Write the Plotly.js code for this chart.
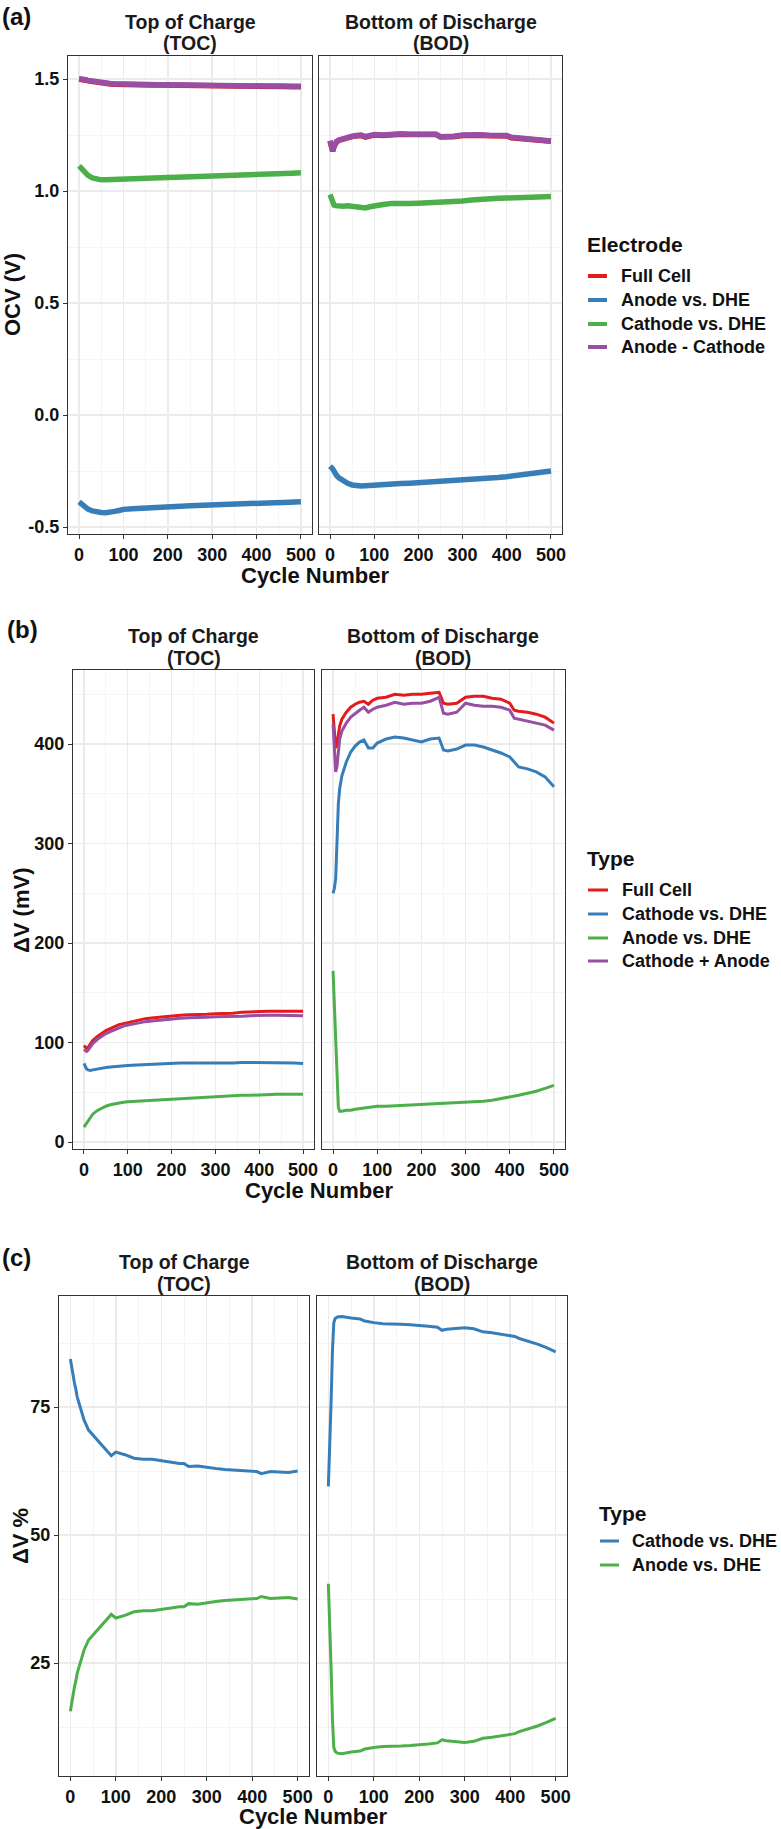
<!DOCTYPE html>
<html><head><meta charset="utf-8">
<script src="https://cdn.plot.ly/plotly-3.0.1.min.js"></script>
<style>html,body{margin:0;padding:0;background:#fff;}#chart{width:781px;height:1829px;}</style>
</head><body><div id="chart"></div>
<script>
// ---------- shared x values ----------
const cycles = [0,3,6,9,12,15,20,30,40,50,60,70,80,90,100,120,140,160,180,200,220,240,250,260,280,300,320,340,360,380,400,410,420,440,460,480,500];

// ---------- panel (a): OCV (V) ----------
const ocvTocFull    = [1.499,1.499,1.498,1.497,1.496,1.495,1.492,1.488,1.484,1.481,1.479,1.478,1.477,1.476,1.476,1.475,1.474,1.474,1.473,1.473,1.472,1.472,1.471,1.471,1.470,1.470,1.469,1.469,1.468,1.468,1.468,1.467,1.467,1.467,1.467,1.466,1.466];
const ocvTocAnode   = [-0.388,-0.393,-0.399,-0.404,-0.409,-0.414,-0.420,-0.428,-0.433,-0.435,-0.436,-0.435,-0.430,-0.426,-0.421,-0.418,-0.415,-0.413,-0.411,-0.409,-0.407,-0.406,-0.405,-0.404,-0.402,-0.400,-0.399,-0.398,-0.396,-0.395,-0.393,-0.392,-0.392,-0.391,-0.390,-0.388,-0.387];
const ocvTocCathode = [1.112,1.106,1.099,1.092,1.085,1.079,1.070,1.059,1.053,1.050,1.050,1.051,1.053,1.054,1.056,1.057,1.058,1.059,1.060,1.061,1.062,1.063,1.063,1.064,1.065,1.066,1.067,1.069,1.070,1.071,1.073,1.074,1.074,1.076,1.078,1.080,1.082];
const ocvTocAnodeMinusCathode = [1.501,1.501,1.500,1.499,1.498,1.497,1.494,1.490,1.486,1.483,1.481,1.480,1.479,1.478,1.478,1.477,1.476,1.476,1.475,1.475,1.474,1.474,1.473,1.473,1.472,1.472,1.471,1.471,1.470,1.470,1.470,1.469,1.469,1.469,1.469,1.468,1.468];
const ocvBodFull    = [1.223,1.193,1.178,1.198,1.213,1.220,1.226,1.233,1.238,1.243,1.246,1.248,1.241,1.245,1.250,1.248,1.253,1.254,1.252,1.251,1.250,1.252,1.241,1.240,1.243,1.248,1.250,1.249,1.247,1.245,1.246,1.238,1.236,1.233,1.230,1.226,1.222];
const ocvBodAnode   = [-0.228,-0.232,-0.240,-0.250,-0.262,-0.270,-0.280,-0.295,-0.305,-0.312,-0.316,-0.317,-0.316,-0.314,-0.312,-0.310,-0.308,-0.306,-0.304,-0.302,-0.300,-0.298,-0.297,-0.296,-0.294,-0.291,-0.289,-0.286,-0.282,-0.279,-0.275,-0.273,-0.270,-0.265,-0.260,-0.255,-0.250];
const ocvBodCathode = [0.985,0.965,0.945,0.937,0.935,0.934,0.933,0.932,0.934,0.931,0.930,0.928,0.925,0.930,0.935,0.940,0.945,0.942,0.944,0.946,0.948,0.950,0.945,0.950,0.953,0.956,0.960,0.964,0.967,0.968,0.969,0.972,0.970,0.971,0.972,0.973,0.976];
const ocvBodAnodeMinusCathode = [1.225,1.195,1.180,1.200,1.215,1.222,1.228,1.235,1.240,1.245,1.248,1.250,1.243,1.247,1.252,1.250,1.255,1.256,1.254,1.253,1.252,1.254,1.243,1.242,1.245,1.250,1.252,1.251,1.249,1.247,1.248,1.240,1.238,1.235,1.232,1.228,1.224];

// ---------- panel (b): ΔV (mV) ----------
const dvTocFull    = [97,95,94,95,97,99,102,106,109,112,114,116,118,119,120,122,124,125,126,127,127.5,128,128,128.5,128.5,129,129,129.5,130.5,131,131.5,131.5,131.5,131.5,131.5,131.5,131.5];
const dvTocCathode = [79,76,73.5,72.5,72,72,72.5,73.5,74.5,75,75.5,76,76.5,76.5,77,77.5,78,78.5,79,79.5,79.5,79.5,79.5,79.5,79,79,79.5,79.5,80,80,80,80,80,80,79.5,79.5,79];
const dvTocAnode   = [15,17,19,21,23,25,28,31.5,34,36,37.5,38.5,39.5,40,40.5,41,41.5,42,42.5,43,43.5,44,44.5,45,45.5,46,46,46.5,47,47,47.5,47.5,47.5,48,48,48,48];
const dvTocSum     = [93,91.5,91,92,94,96,99,103,106,109,111,113,115,116.5,117.5,119.5,121,122,123,124,124.5,125,125,125.5,125.5,126,126,126,126.5,127,127.5,127.5,127.5,127.5,127.5,127,127];
const dvBodFull    = [430,410,396,400,410,418,425,432,437,440,442,443,440,444,446,447,450,449,450,450,451,452,441,440,441,447,448,448,446,445,441,434,433,432,430,427,421];
const dvBodCathode = [250,255,265,300,340,355,368,382,392,398,402,404,396,396,401,405,407,406,404,402,405,406,394,393,395,399,399,397,394,391,387,382,377,375,372,367,357];
const dvBodAnode   = [172,140,100,60,35,31,31,32,32,33,33.5,34,34.5,35,36,36,36.5,37,37,37.5,38,38.5,38.5,39,39.5,40,40.5,41,42,43.5,45,46,47,49,51,54,57];
const dvBodSum     = [420,390,372,378,395,405,413,421,427,431,434,437,432,435,437,439,442,440,441,441,443,447,431,430,432,441,439,438,438,437,434,426,425,423,421,419,414];

// ---------- panel (c): ΔV % ----------
const pctTocCathode = [84.4,82.5,81,79.7,78.5,77,75.5,72.5,70.5,69.5,68.5,67.5,66.5,65.5,66.2,65.7,65,64.8,64.8,64.5,64.2,64,64,63.4,63.5,63.2,63,62.8,62.7,62.6,62.5,62.4,62,62.4,62.3,62.2,62.5];
const pctTocAnode   = [15.6,17.5,19,20.3,21.5,23,24.5,27.5,29.5,30.5,31.5,32.5,33.5,34.5,33.8,34.3,35,35.2,35.2,35.5,35.8,36,36,36.6,36.5,36.8,37,37.2,37.3,37.4,37.5,37.6,38,37.6,37.7,37.8,37.5];
const pctBodCathode = [59.5,66,76,86,91.5,92.3,92.6,92.7,92.5,92.4,92.3,92.2,91.8,91.6,91.5,91.3,91.3,91.2,91.1,91.0,90.8,90.6,90.0,90.2,90.4,90.5,90.3,89.7,89.5,89.2,89.0,88.8,88.4,87.9,87.3,86.6,85.8];
const pctBodAnode   = [40.5,34,24,14,8.5,7.7,7.4,7.3,7.5,7.6,7.7,7.8,8.2,8.4,8.5,8.7,8.7,8.8,8.9,9.0,9.2,9.4,10.0,9.8,9.6,9.5,9.7,10.3,10.5,10.8,11.0,11.2,11.6,12.1,12.7,13.4,14.2];

// ---------- labels ----------
const xTicks = [0,100,200,300,400,500];
const legendA = ['Full Cell','Anode vs. DHE','Cathode vs. DHE','Anode - Cathode'];
const legendB = ['Full Cell','Cathode vs. DHE','Anode vs. DHE','Cathode + Anode'];
const legendC = ['Cathode vs. DHE','Anode vs. DHE'];
const yTicksA = [-0.5,0,0.5,1,1.5], yTextA = ['-0.5','0.0','0.5','1.0','1.5'];
const yTicksB = [0,100,200,300,400];
const yTicksC = [25,50,75];

// ---------- styling ----------
const RED='#E41A1C', BLUE='#377EB8', GREEN='#4DAF4A', PURPLE='#984EA3';
const F = 'Liberation Sans, Arial, Helvetica, sans-serif';
const W = 781, H = 1829;
const px = v => v / W, py = v => 1 - v / H;

function tr(y, color, width, xa, ya, name) {
  return {type:'scatter', mode:'lines', x:cycles, y:y, name:name, xaxis:xa, yaxis:ya,
          line:{color:color, width:width}, showlegend:false, hoverinfo:'skip'};
}
const traces = [
  tr(ocvTocFull, RED, 5.5, 'x', 'y', legendA[0]),
  tr(ocvTocAnode, BLUE, 5.5, 'x', 'y', legendA[1]),
  tr(ocvTocCathode, GREEN, 5.5, 'x', 'y', legendA[2]),
  tr(ocvTocAnodeMinusCathode, PURPLE, 5.5, 'x', 'y', legendA[3]),
  tr(ocvBodFull, RED, 5.5, 'x2', 'y2', legendA[0]),
  tr(ocvBodAnode, BLUE, 5.5, 'x2', 'y2', legendA[1]),
  tr(ocvBodCathode, GREEN, 5.5, 'x2', 'y2', legendA[2]),
  tr(ocvBodAnodeMinusCathode, PURPLE, 5.5, 'x2', 'y2', legendA[3]),

  tr(dvTocFull, RED, 3, 'x3', 'y3', legendB[0]),
  tr(dvTocCathode, BLUE, 3, 'x3', 'y3', legendB[1]),
  tr(dvTocAnode, GREEN, 3, 'x3', 'y3', legendB[2]),
  tr(dvTocSum, PURPLE, 3, 'x3', 'y3', legendB[3]),
  tr(dvBodFull, RED, 3, 'x4', 'y4', legendB[0]),
  tr(dvBodCathode, BLUE, 3, 'x4', 'y4', legendB[1]),
  tr(dvBodAnode, GREEN, 3, 'x4', 'y4', legendB[2]),
  tr(dvBodSum, PURPLE, 3, 'x4', 'y4', legendB[3]),

  tr(pctTocCathode, BLUE, 3, 'x5', 'y5', legendC[0]),
  tr(pctTocAnode, GREEN, 3, 'x5', 'y5', legendC[1]),
  tr(pctBodCathode, BLUE, 3, 'x6', 'y6', legendC[0]),
  tr(pctBodAnode, GREEN, 3, 'x6', 'y6', legendC[1])
];

const tickFont = {family:F, size:18, color:'#111', weight:700};
function xax(x0, x1, anchor) {
  return {domain:[px(x0), px(x1)], anchor:anchor, range:[-25,525], tickvals:xTicks,
    ticktext:xTicks.map(String), ticks:'outside', ticklen:4, tickwidth:1, tickcolor:'#333',
    showline:true, mirror:true, linecolor:'#333', linewidth:1, zeroline:false,
    showgrid:true, gridcolor:'#EBEBEB', gridwidth:1.4,
    minor:{tickvals:[50,150,250,350,450], showgrid:true, gridcolor:'#F2F2F2', gridwidth:0.8, ticks:''},
    tickfont:tickFont, fixedrange:true};
}
function yax(y0, y1, anchor, range, tv, tt, minorVals, labels, match) {
  const a = {domain:[py(y1), py(y0)], anchor:anchor, range:range, tickvals:tv, ticktext:tt,
    ticks: labels ? 'outside' : '', ticklen:4, tickwidth:1, tickcolor:'#333',
    showticklabels:labels, showline:true, mirror:true, linecolor:'#333', linewidth:1, zeroline:false,
    showgrid:true, gridcolor:'#EBEBEB', gridwidth:1.4,
    minor:{tickvals:minorVals, showgrid:true, gridcolor:'#F2F2F2', gridwidth:0.8, ticks:''},
    tickfont:tickFont, fixedrange:true};
  if (match) a.matches = match;
  return a;
}

const rangeA = [-0.531, 1.603], rangeB = [-7, 474.4], rangeC = [2.93, 96.7];
const layout = {
  width:W, height:H, margin:{l:0,r:0,t:0,b:0}, paper_bgcolor:'#fff', plot_bgcolor:'#fff',
  showlegend:false, font:{family:F, color:'#111'},
  xaxis:  xax(68, 312, 'y'),
  xaxis2: xax(319, 562, 'y2'),
  yaxis:  yax(56, 534, 'x', rangeA, yTicksA, yTextA, [-0.25,0.25,0.75,1.25], true),
  yaxis2: yax(56, 534, 'x2', rangeA, yTicksA, yTextA, [-0.25,0.25,0.75,1.25], false),
  xaxis3: xax(73, 314, 'y3'),
  xaxis4: xax(322, 565, 'y4'),
  yaxis3: yax(670, 1149, 'x3', rangeB, yTicksB, yTicksB.map(String), [50,150,250,350,450], true),
  yaxis4: yax(670, 1149, 'x4', rangeB, yTicksB, yTicksB.map(String), [50,150,250,350,450], false),
  xaxis5: xax(59, 309, 'y5'),
  xaxis6: xax(317, 567, 'y6'),
  yaxis5: yax(1296, 1776, 'x5', rangeC, yTicksC, yTicksC.map(String), [12.5,37.5,62.5,87.5], true),
  yaxis6: yax(1296, 1776, 'x6', rangeC, yTicksC, yTicksC.map(String), [12.5,37.5,62.5,87.5], false),
  annotations:[], shapes:[]
};

function ann(text, x, y, size, opts) {
  const o = Object.assign({text:text, x:px(x), y:py(y), xref:'paper', yref:'paper', showarrow:false,
    xanchor:'center', yanchor:'middle', borderpad:0,
    font:{family:F, size:size, color:'#111', weight:700}}, opts||{});
  layout.annotations.push(o);
}
// panel labels
ann('(a)', 1, 16, 24, {xanchor:'left'});
ann('(b)', 6, 629, 24, {xanchor:'left'});
ann('(c)', 1, 1257, 24, {xanchor:'left'});
// facet strips
function strip(cx, y1, y2, a, b) {
  ann(a, cx, y1, 19.5, {font:{family:F, size:19.5, color:'#1a1a1a', weight:700}});
  ann(b, cx, y2, 19.5, {font:{family:F, size:19.5, color:'#1a1a1a', weight:700}});
}
strip(190, 22, 43, 'Top of Charge', '(TOC)');
strip(440.5, 22, 43, 'Bottom of Discharge', '(BOD)');
strip(193.5, 636, 658, 'Top of Charge', '(TOC)');
strip(443.5, 636, 658, 'Bottom of Discharge', '(BOD)');
strip(184, 1262, 1284, 'Top of Charge', '(TOC)');
strip(442, 1262, 1284, 'Bottom of Discharge', '(BOD)');
// axis titles
ann('Cycle Number', 315, 576, 22);
ann('Cycle Number', 319, 1190, 22);
ann('Cycle Number', 313, 1816, 22);
ann('OCV (V)', 13, 295, 22, {textangle:-90});
ann('ΔV (mV)', 21, 910, 22, {textangle:-90});
ann('ΔV %', 20, 1536, 22, {textangle:-90});

// legends
function legend(title, tx, ty, names, colors, ys, x0, x1, textX, lw) {
  ann(title, tx, ty, 21, {xanchor:'left'});
  names.forEach((n, i) => {
    layout.shapes.push({type:'line', xref:'paper', yref:'paper', x0:px(x0), x1:px(x1), y0:py(ys[i]), y1:py(ys[i]),
      line:{color:colors[i], width:lw}});
    ann(n, textX, ys[i], 18, {xanchor:'left'});
  });
}
legend('Electrode', 586, 244, legendA, [RED,BLUE,GREEN,PURPLE], [276,300,324,347], 588, 607, 620, 4);
legend('Type', 586, 858, legendB, [RED,BLUE,GREEN,PURPLE], [890,914,938,961], 588, 608, 621, 3);
legend('Type', 598, 1513, legendC, [BLUE,GREEN], [1541,1565], 600, 619, 631, 3);

Plotly.newPlot('chart', traces, layout, {staticPlot:true, displayModeBar:false});
</script></body></html>
